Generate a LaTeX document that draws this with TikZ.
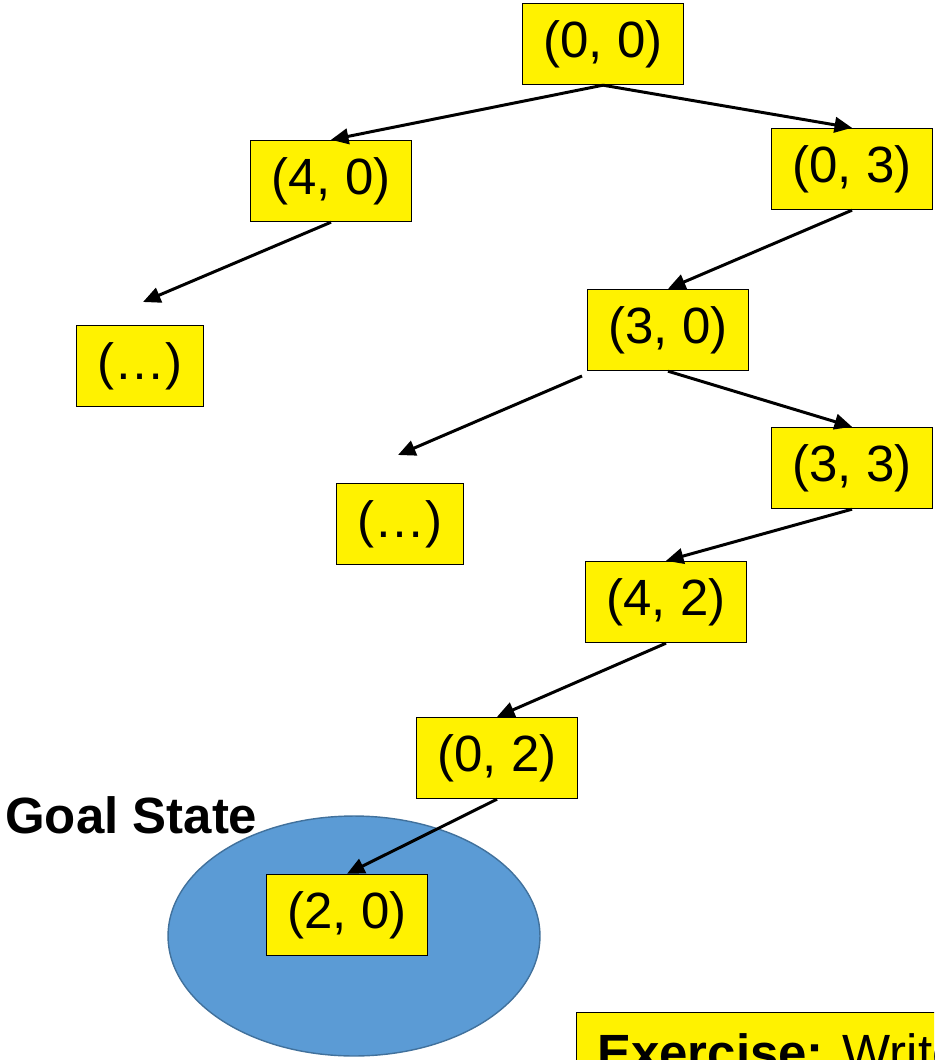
\documentclass[tikz,border=0pt]{standalone}
\usepackage{fontspec}
\setmainfont{Liberation Sans}
\usetikzlibrary{arrows.meta}

\definecolor{goalfill}{RGB}{91,155,213}
\definecolor{goalline}{RGB}{65,113,156}

\tikzset{
  state/.style={draw=black, line width=0.8pt, fill=yellow, inner sep=0pt,
    minimum width=3.22cm, minimum height=1.62cm,
    font=\fontsize{29}{35}\selectfont},
  more/.style={state, minimum width=2.54cm},
  task/.style={draw=black, line width=0.8pt, fill=yellow, inner sep=0.41cm,
    font=\fontsize{29}{35}\selectfont},
  move/.style={-{Triangle[length=0.35cm, width=0.31cm]}, line width=1.7pt},
}

\begin{document}
\begin{tikzpicture}[x=0.02cm, y=-0.02cm]
  \useasboundingbox (0,0) rectangle (934,1060);
  \clip (0,0) rectangle (934,1060);
  % goal region sits behind the last state
  \draw[goalline, fill=goalfill, line width=0.8pt]
    (354,936) ellipse [x radius=3.72cm, y radius=2.4cm];
  \node[font=\fontsize{29}{35}\selectfont\bfseries, anchor=base west,
    inner sep=0pt] (goal) at (5,833) {Goal State};
  % search tree states
  \node[state] (n00) at (603,44) {(0, 0)};
  \node[state] (n40) at (331,181) {(4, 0)};
  \node[state] (n03) at (852,169) {(0, 3)};
  \node[more]  (moreA) at (140,366) {(…)};
  \node[state] (n30) at (668,330) {(3, 0)};
  \node[more]  (moreB) at (400,524) {(…)};
  \node[state] (n33) at (852,468) {(3, 3)};
  \node[state] (n42) at (666,602) {(4, 2)};
  \node[state] (n02) at (497,758) {(0, 2)};
  \node[state] (n20) at (347,915) {(2, 0)};
  % loose ends of the two unexpanded branches
  \coordinate (endA) at (143,302);
  \coordinate (startB) at (582,376);
  \coordinate (endB) at (398,455);
  \draw[move] (n00.south) -- (n40.north);
  \draw[move] (n00.south) -- (n03.north);
  \draw[move] (n40.south) -- (endA);
  \draw[move] (n03.south) -- (n30.north);
  \draw[move] (startB) -- (endB);
  \draw[move] (n30.south) -- (n33.north);
  \draw[move] (n33.south) -- (n42.north);
  \draw[move] (n42.south) -- (n02.north);
  \draw[move] (n02.south) -- (n20.north);
  % exercise box runs off the page edge
  \node[task, anchor=north west] (task) at (576,1012)
    {\textbf{Exercise:} Write};
\end{tikzpicture}
\end{document}
